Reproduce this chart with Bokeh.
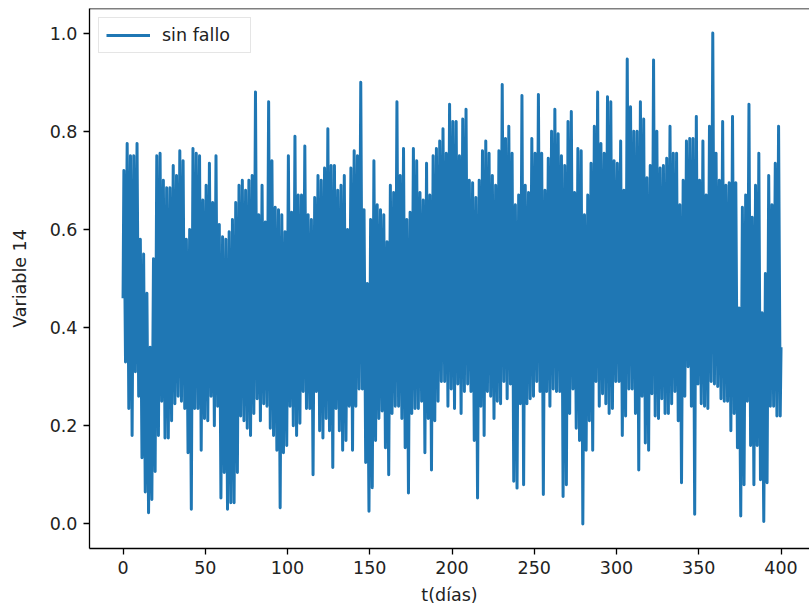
from bokeh.plotting import figure
from bokeh.models import Range1d, FixedTicker, PrintfTickFormatter, ColumnDataSource, Span
from bokeh.embed import file_html
from bokeh.resources import INLINE

# 2-day bins, start day of each bin
bin_start = list(range(0, 400, 2))

# upper envelope (peak) read per 2-day bin
v_high = [
    0.72, 0.775, 0.75, 0.75, 0.775, 0.58, 0.55, 0.47, 0.36, 0.54,
    0.75, 0.755, 0.70, 0.685, 0.685, 0.73, 0.71, 0.76, 0.74, 0.58,
    0.60, 0.765, 0.755, 0.75, 0.66, 0.69, 0.735, 0.655, 0.75, 0.61,
    0.585, 0.58, 0.595, 0.62, 0.655, 0.69, 0.70, 0.68, 0.70, 0.71,
    0.88, 0.63, 0.69, 0.615, 0.86, 0.74, 0.645, 0.64, 0.63, 0.595,
    0.75, 0.635, 0.79, 0.67, 0.67, 0.77, 0.63, 0.62, 0.665, 0.71,
    0.70, 0.725, 0.805, 0.73, 0.73, 0.68, 0.69, 0.71, 0.60, 0.725,
    0.76, 0.75, 0.90, 0.64, 0.49, 0.62, 0.74, 0.65, 0.64, 0.63,
    0.575, 0.69, 0.675, 0.86, 0.71, 0.765, 0.62, 0.635, 0.765, 0.74,
    0.675, 0.66, 0.735, 0.67, 0.75, 0.765, 0.78, 0.805, 0.755, 0.855,
    0.82, 0.82, 0.75, 0.825, 0.845, 0.70, 0.695, 0.665, 0.70, 0.76,
    0.78, 0.755, 0.71, 0.69, 0.76, 0.895, 0.785, 0.81, 0.755, 0.65,
    0.67, 0.873, 0.69, 0.675, 0.785, 0.755, 0.875, 0.755, 0.68, 0.745,
    0.80, 0.845, 0.795, 0.75, 0.73, 0.82, 0.84, 0.675, 0.765, 0.76,
    0.63, 0.67, 0.735, 0.81, 0.88, 0.775, 0.755, 0.87, 0.86, 0.74,
    0.735, 0.78, 0.68, 0.947, 0.85, 0.80, 0.80, 0.86, 0.825, 0.705,
    0.73, 0.945, 0.80, 0.725, 0.73, 0.745, 0.81, 0.755, 0.755, 0.65,
    0.70, 0.78, 0.785, 0.785, 0.83, 0.70, 0.78, 0.67, 0.81, 1.0,
    0.755, 0.70, 0.82, 0.69, 0.695, 0.83, 0.695, 0.44, 0.645, 0.67,
    0.855, 0.625, 0.69, 0.755, 0.43, 0.51, 0.71, 0.65, 0.735, 0.81,
]

# lower envelope (trough) read per 2-day bin
v_low = [
    0.33, 0.235, 0.18, 0.31, 0.26, 0.135, 0.065, 0.023, 0.05, 0.107,
    0.18, 0.25, 0.175, 0.175, 0.21, 0.245, 0.26, 0.25, 0.235, 0.145,
    0.03, 0.235, 0.235, 0.15, 0.215, 0.21, 0.26, 0.20, 0.24, 0.053,
    0.105, 0.03, 0.043, 0.043, 0.105, 0.22, 0.21, 0.195, 0.18, 0.225,
    0.255, 0.21, 0.245, 0.24, 0.195, 0.18, 0.15, 0.033, 0.145, 0.16,
    0.24, 0.20, 0.18, 0.205, 0.27, 0.235, 0.235, 0.10, 0.27, 0.19,
    0.175, 0.215, 0.19, 0.115, 0.235, 0.19, 0.15, 0.17, 0.24, 0.15,
    0.24, 0.275, 0.275, 0.125, 0.026, 0.074, 0.17, 0.215, 0.23, 0.155,
    0.10, 0.225, 0.24, 0.24, 0.215, 0.155, 0.063, 0.225, 0.235, 0.235,
    0.25, 0.145, 0.215, 0.11, 0.21, 0.25, 0.29, 0.29, 0.24, 0.275,
    0.235, 0.285, 0.225, 0.27, 0.285, 0.27, 0.17, 0.053, 0.24, 0.18,
    0.27, 0.26, 0.215, 0.25, 0.245, 0.29, 0.255, 0.285, 0.087, 0.073,
    0.245, 0.08, 0.245, 0.255, 0.26, 0.29, 0.27, 0.06, 0.27, 0.24,
    0.275, 0.27, 0.27, 0.056, 0.08, 0.225, 0.275, 0.195, 0.17, 0.0,
    0.15, 0.21, 0.15, 0.29, 0.24, 0.265, 0.245, 0.225, 0.235, 0.29,
    0.29, 0.18, 0.22, 0.275, 0.275, 0.225, 0.11, 0.26, 0.165, 0.15,
    0.265, 0.22, 0.215, 0.255, 0.225, 0.225, 0.245, 0.27, 0.21, 0.084,
    0.26, 0.32, 0.24, 0.02, 0.285, 0.245, 0.24, 0.235, 0.29, 0.285,
    0.28, 0.255, 0.25, 0.25, 0.19, 0.225, 0.155, 0.016, 0.08, 0.25,
    0.16, 0.08, 0.16, 0.09, 0.005, 0.084, 0.24, 0.24, 0.22, 0.22,
]

first_point = (0.0, 0.46)
last_point = (400.0, 0.36)

x_ticks = [0, 50, 100, 150, 200, 250, 300, 350, 400]
y_ticks = [0.0, 0.2, 0.4, 0.6, 0.8, 1.0]

# build the series path: peak then trough inside each bin
t = [first_point[0]]
v = [first_point[1]]
for d, hi, lo in zip(bin_start, v_high, v_low):
    t += [d + 0.5, d + 1.5]
    v += [hi, lo]
t.append(last_point[0])
v.append(last_point[1])

src = ColumnDataSource(dict(t=t, v=v))

FONT = "DejaVu Sans"
FS = "17.5px"
Y_TOP = 1.05

p = figure(width=809, height=614, output_backend="svg", toolbar_location=None,
           x_range=Range1d(-20.4, 417.3), y_range=Range1d(-0.05, Y_TOP),
           min_border_left=89, min_border_right=0, min_border_top=8, min_border_bottom=66,
           background_fill_color="white", border_fill_color="white")

p.line("t", "v", source=src, line_color="#1f77b4", line_width=3.0,
       line_join="round", legend_label="sin fallo")

p.xgrid.visible = False
p.ygrid.visible = False
p.outline_line_color = None
p.add_layout(Span(location=Y_TOP, dimension="width", line_color="black", line_width=1.3))

p.xaxis.ticker = FixedTicker(ticks=x_ticks)
p.yaxis.ticker = FixedTicker(ticks=y_ticks)
p.yaxis.formatter = PrintfTickFormatter(format="%.1f")
p.xaxis.axis_label = "t(días)"
p.yaxis.axis_label = "Variable 14"

for ax in (p.xaxis[0], p.yaxis[0]):
    ax.axis_line_color = "black"
    ax.axis_line_width = 1.3
    ax.major_tick_line_color = "black"
    ax.major_tick_line_width = 1.3
    ax.major_tick_in = 0
    ax.major_tick_out = 6
    ax.minor_tick_line_color = None
    ax.major_label_text_font = FONT
    ax.major_label_text_font_size = FS
    ax.major_label_text_color = "#222222"
    ax.axis_label_text_font = FONT
    ax.axis_label_text_font_size = FS
    ax.axis_label_text_font_style = "normal"
    ax.axis_label_text_color = "#222222"
    ax.major_label_standoff = 6

p.xaxis.axis_label_standoff = 8
p.yaxis.axis_label_standoff = 17

lg = p.legend[0]
lg.location = "top_left"
lg.margin = 9
lg.padding = 7
lg.spacing = 0
lg.glyph_width = 44
lg.glyph_height = 20
lg.label_standoff = 12
lg.label_width = 81
lg.label_height = 20
lg.label_text_font = FONT
lg.label_text_font_size = FS
lg.label_text_color = "#222222"
lg.border_line_color = "#cccccc"
lg.border_line_width = 1
lg.background_fill_color = "white"
lg.background_fill_alpha = 0.8

open("out.html", "w").write(file_html(p, INLINE))
